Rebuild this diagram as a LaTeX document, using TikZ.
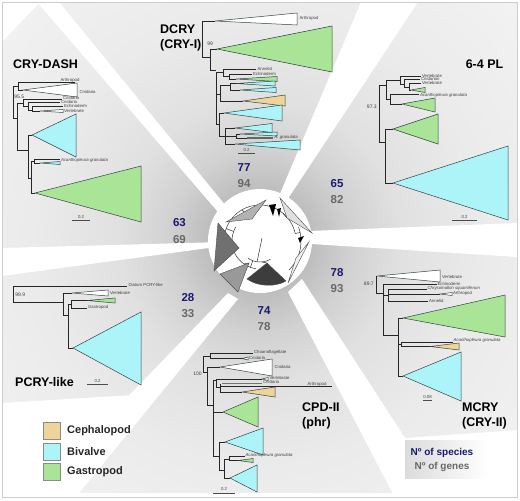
\documentclass[tikz,border=0pt]{standalone}
\usepackage{fontspec}
\setmainfont{Liberation Sans}
\usepackage{xcolor}
\usetikzlibrary{calc}
\definecolor{cephTan}{RGB}{238,212,152}
\definecolor{bivCyan}{RGB}{172,244,248}
\definecolor{gasGreen}{RGB}{170,228,150}
\definecolor{numBlue}{RGB}{26,26,112}
\definecolor{numGray}{RGB}{104,104,104}
\definecolor{cladeEdge}{RGB}{50,66,68}
\definecolor{frameGray}{RGB}{204,204,204}
% 25bp is the radius of the shaded circle
\pgfdeclareradialshading{panelfade}{\pgfpointorigin}{color(0bp)=(black!32); color(3.6bp)=(black!26); color(6.5bp)=(black!18); color(10bp)=(black!12); color(16bp)=(black!8); color(25bp)=(black!5); color(50bp)=(black!5)}

\begin{document}
\begin{tikzpicture}[x=1pt,y=-1pt,
    br/.style={line width=0.45pt, black!85},
    clade/.style={draw=cladeEdge, line width=0.5pt},
    ctri/.style={draw=black!70, line width=0.4pt},
    itree/.style={line width=0.5pt, black!80},
    lab/.style={font=\fontsize{4.3}{5}\selectfont, text=black!75, inner sep=0.4pt},
    ilab/.style={font=\fontsize{4.3}{5}\selectfont\itshape, text=black!75, inner sep=0.4pt},
    boot/.style={font=\fontsize{5}{6}\selectfont, text=black!75, inner sep=0.6pt},
    ttl/.style={font=\fontsize{12.5}{15}\selectfont\bfseries, align=left, inner sep=0pt},
    nsp/.style={font=\fontsize{11.5}{12}\selectfont\bfseries, text=numBlue, inner sep=0pt},
    ngn/.style={font=\fontsize{11.5}{12}\selectfont\bfseries, text=numGray, inner sep=0pt},
    leg/.style={font=\fontsize{11}{12}\selectfont\bfseries, text=black!85, inner sep=0pt, anchor=west},
    sbar/.style={line width=0.6pt, black!70},
    ray/.style={fill=white, draw=none}]

    \useasboundingbox (0,0) rectangle (520,501);

    % grey panels round the central tree
    \begin{scope}
        \clip (2.5,2.5) rectangle (517.5,497.5);
        \shade[shading=panelfade] (260,241) circle (350);
        \fill[ray] (218,212) -- (37,2) -- (59,2) -- (226,206) -- cycle;
        \fill[ray] (2,2) -- (40,2) -- (2,42) -- cycle;
        \fill[ray] (260,241) -- (361,2) -- (418,2) -- cycle;
        \fill[ray] (295,231.5) -- (518,223) -- (518,257) -- (295,243) -- cycle;
        \fill[ray] (288,292) -- (302,279) -- (405,438) -- (518,430) -- (518,498) -- (395,498) -- cycle;
        \fill[ray] (228,293) -- (30,498) -- (75,498) -- (238,299) -- cycle;
        \fill[ray] (2,403) -- (150,394) -- (75,498) -- (2,498) -- cycle;
        \fill[ray] (260,241) -- (2,248) -- (2,276) -- cycle;
        \fill[ray] (2,492.5) rectangle (518,498);
    \end{scope}
    \draw[frameGray, line width=0.7pt] (2.5,2.5) rectangle (517.5,497.5);

    % central circular tree
    \fill[white] (260,241) circle (52);
    \draw[itree] plot[domain=12:165, samples=40] ({260+36*cos(\x)},{241-36*sin(\x)});
    \draw[itree] plot[domain=150:262, samples=30] ({260+28*cos(\x)},{241-28*sin(\x)});
    \draw[itree] plot[domain=235:300, samples=20] ({260+21*cos(\x)},{241-21*sin(\x)});
    \draw[itree] plot[domain=-45:20, samples=20] ({260+41*cos(\x)},{241-41*sin(\x)});
    \draw[itree] ({260+36*cos(120)},{241-36*sin(120)}) -- (252,219);
    \draw[itree] ({260+28*cos(185)},{241-28*sin(185)}) -- (239,248);
    \draw[itree] ({260+28*cos(235)},{241-28*sin(235)}) -- (249,263);
    \draw[itree] ({260+21*cos(275)},{241-21*sin(275)}) -- (267,263);
    \draw[itree] ({260+41*cos(-25)},{241-41*sin(-25)}) -- (296,258);
    \draw[itree] ({260+36*cos(50)},{241-36*sin(50)}) -- (287,218);
    \draw[itree] ({260+36*cos(12)},{241-36*sin(12)}) -- ({260+41*cos(12)},{241-41*sin(12)});
    \draw[itree] ({260+36*cos(160)},{241-36*sin(160)}) -- ({260+28*cos(160)},{241-28*sin(160)});
    \draw[itree] ({260+28*cos(250)},{241-28*sin(250)}) -- ({260+21*cos(250)},{241-21*sin(250)});
    \draw[itree] ({260+21*cos(262)},{241-21*sin(262)}) -- (262,238);
    \filldraw[ctri, fill=black!30] (226,222) -- (266,200) -- (252,219) -- cycle;
    \filldraw[ctri, fill=black!56] (218,223) -- (214,271) -- (239,248) -- cycle;
    \filldraw[ctri, fill=black!40] (220,274) -- (238,292) -- (249,263) -- cycle;
    \filldraw[ctri, fill=black!76] (267,263) -- (247,279) .. controls (258,287) and (276,287) .. (286,281) -- cycle;
    \filldraw[ctri, fill=black!6] (309,242) -- (288,283) -- (296,258) -- cycle;
    \filldraw[ctri, fill=black!12] (280,198) -- (312,233) -- (287,218) -- cycle;
    \fill[black] (269,205) -- (276,204) -- (273,216) -- cycle;
    \fill[black] (277,209) -- (281,208) -- (279,217) -- cycle;
    \fill[black] (298,238) -- (304,236) -- (300,243) -- cycle;

    % DCRY (CRY-I)
    \node[ttl, anchor=west] (tDC) at (160,37.5) {DCRY\\(CRY-I)};
    \draw[br] (215,21) -- (202,21) -- (202,57) -- (210,57);
    \draw[br] (217,49) -- (210,49) -- (210,70) -- (216,70);
    \draw[br] (216,72) -- (216,124);
    \draw[br] (216,72) -- (223,72) (223,69.5) -- (223,76) (223,69.5) -- (256,69.5)
        (223,76) -- (229,76) (229,74) -- (229,79) (229,74) -- (252,74) (229,79) -- (236,79);
    \draw[br] (216,94) -- (220,94) (220,85) -- (220,101) (220,85) -- (230,85)
        (230,83.5) -- (230,90) (230,83.5) -- (236,83.5) (230,90) -- (240,90) (220,101) -- (243,101);
    \draw[br] (216,124) -- (219,124) (219,113) -- (219,136) (219,113) -- (224,113)
        (219,136) -- (225,136) (225,128) -- (225,144) (225,128) -- (235,128)
        (225,136) -- (236,136) (236,134) -- (236,138) (236,134) -- (240,134)
        (236,138) -- (273,138) (225,144) -- (235,144);
    \draw[line width=1.2pt, black!60] (247,138) -- (273,138);
    \filldraw[clade, fill=white] (215,21) -- (297,13) -- (297,25) -- cycle;
    \filldraw[clade, fill=gasGreen] (217,49) -- (332,26) -- (332,72) -- cycle;
    \filldraw[clade, fill=gasGreen] (236,79) -- (277,76.5) -- (277,81.5) -- cycle;
    \filldraw[clade, fill=bivCyan] (236,83.5) -- (275,81) -- (275,86) -- cycle;
    \filldraw[clade, fill=bivCyan] (240,90) -- (276,87.5) -- (276,92.5) -- cycle;
    \filldraw[clade, fill=cephTan] (243,101) -- (285,95) -- (285,106) -- cycle;
    \filldraw[clade, fill=bivCyan] (224,113) -- (282,105) -- (282,121) -- cycle;
    \filldraw[clade, fill=bivCyan] (235,128) -- (272,123.5) -- (272,132.5) -- cycle;
    \filldraw[clade, fill=bivCyan] (240,134) -- (277,132) -- (277,136) -- cycle;
    \filldraw[clade, fill=bivCyan] (235,144) -- (300,140) -- (300,150) -- cycle;
    \node[lab, anchor=west] (dcArth) at (299,18.5) {Arthropod};
    \node[boot, anchor=west] (dcBoot) at (206.5,44) {99};
    \node[lab, anchor=west] (dcAnn) at (257,68.5) {Annelid};
    \node[lab, anchor=west] (dcEch) at (252.5,74) {Echinoderm};
    \node[ilab, anchor=west] (dcAgr) at (274,137) {A. granulata};
    \draw[sbar] (238,153.5) -- (255,153.5);
    \node[lab, anchor=south] (dcScl) at (246.5,152) {0.2};
    \node[nsp] (dcSp) at (244,168) {77};
    \node[ngn] (dcGn) at (244,184) {94};

    % CRY-DASH
    \node[ttl, anchor=west] (tCD) at (13,64) {CRY-DASH};
    \draw[br] (13,86) -- (13,118) (13,86) -- (18,86) (18,82) -- (18,90) (18,82) -- (75,82) (18,90) -- (23,90);
    \draw[br] (13,118) -- (17,118) (17,103) -- (17,150) (17,103) -- (23,103)
        (23,99) -- (23,106) (23,99) -- (62,99) (23,106) -- (28,106) (28,102) -- (28,110)
        (28,102) -- (60,102) (28,110) -- (32,110) (32,106) -- (32,111) (32,106) -- (63,106)
        (32,111) -- (40,111);
    \draw[br] (17,150) -- (28,150) (28,135) -- (28,178) (28,135) -- (32,135) (28,178) -- (31,178)
        (31,161) -- (31,193) (31,161) -- (34,161) (34,159) -- (34,163) (34,159) -- (60,159)
        (34,163) -- (40,163) (31,193) -- (35,193);
    \filldraw[clade, fill=white] (23,90) -- (77,83) -- (77,97) -- cycle;
    \filldraw[clade, fill=white] (40,111) -- (63,109.5) -- (63,112.5) -- cycle;
    \filldraw[clade, fill=bivCyan] (32,135) -- (76,114) -- (76,157) -- cycle;
    \filldraw[clade, fill=bivCyan] (40,163) -- (60,161.5) -- (60,164.5) -- cycle;
    \filldraw[clade, fill=gasGreen] (35,193) -- (141,166) -- (141,222) -- cycle;
    \node[lab, anchor=west] (cdArth) at (60,80.3) {Arthropod};
    \node[lab, anchor=west] (cdCni) at (79,92) {Cnidaria};
    \node[boot, anchor=west] (cdBoot) at (13.5,96.5) {95.5};
    \node[lab, anchor=west] (cdCniA) at (62.5,98.3) {Cnidaria};
    \node[lab, anchor=west] (cdCniB) at (60.5,101.8) {Cnidaria};
    \node[lab, anchor=west] (cdEch) at (63.5,105.6) {Echinoderm};
    \node[lab, anchor=west] (cdVer) at (63.5,110.6) {Vertebrate};
    \node[ilab, anchor=west] (cdAgr) at (60.5,160.5) {Acanthopleura granulata};
    \draw[sbar] (72,220.5) -- (90,220.5);
    \node[lab, anchor=south] (cdScl) at (81,219) {0.2};
    \node[nsp] (cdSp) at (179.5,223) {63};
    \node[ngn] (cdGn) at (179.5,239.5) {69};

    % 6-4 PL
    \node[ttl, anchor=east] (tPL) at (503.5,64) {6-4 PL};
    \draw[br] (379,85) -- (379,142) (379,85) -- (386,85) (386,80) -- (386,99)
        (386,80) -- (400,80) (400,76) -- (400,84) (400,76) -- (421,76) (400,84) -- (404,84)
        (404,79.5) -- (404,87.5) (404,79.5) -- (420,79.5) (404,87.5) -- (409,87.5)
        (409,83) -- (409,90) (409,83) -- (421,83) (409,90) -- (411,90);
    \draw[br] (386,99) -- (390,99) (390,94) -- (390,104) (390,94) -- (419,94) (390,104) -- (402,104);
    \draw[br] (379,142) -- (385,142) (385,129) -- (385,183) (385,129) -- (393,129) (385,183) -- (393,183);
    \filldraw[clade, fill=gasGreen] (411,90) -- (425,87.5) -- (425,92.5) -- cycle;
    \filldraw[clade, fill=gasGreen] (402,104) -- (435,98) -- (435,112) -- cycle;
    \filldraw[clade, fill=gasGreen] (393,129) -- (438,114) -- (438,144) -- cycle;
    \filldraw[clade, fill=bivCyan] (393,183) -- (508,146) -- (508,220) -- cycle;
    \node[boot, anchor=east] (plBoot) at (377.5,107) {97.3};
    \node[lab, anchor=west] (plVerA) at (421.5,75.8) {Vertebrate};
    \node[lab, anchor=west] (plCni) at (420.5,79.3) {Cnidarian};
    \node[lab, anchor=west] (plVerB) at (421.5,82.8) {Vertebrate};
    \node[ilab, anchor=west] (plAgr) at (419.5,95.3) {Acanthopleura granulata};
    \draw[sbar] (452,220.5) -- (477,220.5);
    \node[lab, anchor=south] (plScl) at (464.5,219) {0.2};
    \node[nsp] (plSp) at (337,184) {65};
    \node[ngn] (plGn) at (337,200) {82};

    % PCRY-like
    \node[ttl, anchor=west] (tPC) at (15,382) {PCRY-like};
    \draw[br] (127,286) -- (13,286) -- (13,302) -- (63,302);
    \draw[br] (63,293) -- (63,315) (63,293) -- (72,293) (63,315) -- (68,315) (68,304) -- (68,348)
        (68,304) -- (71,304) (71,300.5) -- (71,308) (71,300.5) -- (87,300.5) (71,308) -- (87,308)
        (68,348) -- (73,348);
    \filldraw[clade, fill=white] (72,293) -- (108,290) -- (108,296) -- cycle;
    \filldraw[clade, fill=gasGreen] (87,300.5) -- (115,298) -- (115,303) -- cycle;
    \filldraw[clade, fill=bivCyan] (73,348) -- (141,312) -- (141,385) -- cycle;
    \node[lab, anchor=west] (pcDia) at (128,285) {Diatom PCRY-like};
    \node[boot, anchor=west] (pcBoot) at (14.5,295) {99.9};
    \node[lab, anchor=west] (pcVer) at (109.5,293) {Vertebrate};
    \node[lab, anchor=west] (pcGas) at (87.5,307) {Gastropod};
    \draw[sbar] (87,384.5) -- (108,384.5);
    \node[lab, anchor=south] (pcScl) at (97.5,383) {0.2};
    \node[nsp] (pcSp) at (188,297.5) {28};
    \node[ngn] (pcGn) at (188,314) {33};

    % CPD-II (phr)
    \node[ttl, anchor=west] (tCP) at (302,415.5) {CPD-II\\(phr)};
    \draw[br] (203,356) -- (203,372) (203,356) -- (210,356) (210,353) -- (210,358.5)
        (210,353) -- (253,353) (210,358.5) -- (242,358.5)
        (203,372) -- (207,372) (207,367) -- (207,405) (207,367) -- (220,367) (207,405) -- (213,405);
    \draw[br] (213,380) -- (213,456) (213,380) -- (216,380) (216,379) -- (216,387) (216,379) -- (262,379)
        (216,387) -- (220,387) (220,383.5) -- (220,392) (220,386.5) -- (332,386.5) (220,392) -- (242,392)
        (213,412) -- (223,412);
    \draw[line width=1.2pt, black!55] (222,383.5) -- (262,383.5);
    \draw[br] (213,456) -- (219,456) (219,442) -- (219,470) (219,442) -- (225,442) (219,470) -- (224,470)
        (224,459) -- (224,478) (224,459) -- (229,459) (229,456) -- (229,460.5) (229,456) -- (245,456)
        (229,460.5) -- (238,460.5) (224,478) -- (230,478);
    \filldraw[clade, fill=white] (242,358.5) -- (248,357) -- (248,360) -- cycle;
    \filldraw[clade, fill=white] (220,367) -- (272,359) -- (272,376) -- cycle;
    \filldraw[clade, fill=white] (262,379) -- (268,377.5) -- (268,380.5) -- cycle;
    \filldraw[clade, fill=cephTan] (242,392) -- (275,387) -- (275,397) -- cycle;
    \filldraw[clade, fill=gasGreen] (223,412) -- (258,397) -- (258,427) -- cycle;
    \filldraw[clade, fill=bivCyan] (225,442) -- (263,428) -- (263,455) -- cycle;
    \filldraw[clade, fill=gasGreen] (238,460.5) -- (253,458.5) -- (253,462.5) -- cycle;
    \filldraw[clade, fill=bivCyan] (230,478) -- (257,465) -- (257,492) -- cycle;
    \node[lab, anchor=west] (cpCho) at (253.5,352.5) {Choanoflagellate};
    \node[lab, anchor=west] (cpCniA) at (248.5,357.5) {Cnidaria};
    \node[boot, anchor=east] (cpBoot) at (202.5,374) {100};
    \node[lab, anchor=west] (cpCniB) at (274,367) {Cnidaria};
    \node[lab, anchor=west] (cpVer) at (269,378.3) {Vertebrate};
    \node[lab, anchor=west] (cpCniC) at (262.5,382.3) {Cnidaria};
    \node[lab, anchor=west] (cpArth) at (307,384) {Arthropod};
    \node[ilab, anchor=west] (cpAgr) at (245,455.3) {Acanthopleura granulata};
    \draw[sbar] (213,493) -- (235,493);
    \node[lab, anchor=south] (cpScl) at (224,491.5) {0.2};
    \node[nsp] (cpSp) at (264,310.5) {74};
    \node[ngn] (cpGn) at (264,326.5) {78};

    % MCRY (CRY-II)
    \node[ttl, anchor=west] (tMC) at (462,415.5) {MCRY\\(CRY-II)};
    \draw[br] (376,276) -- (376,293) (376,276) -- (377,276) (376,293) -- (383,293) (383,284) -- (383,335)
        (383,284) -- (437,284) (383,295) -- (388,295) (388,289) -- (388,301) (388,289) -- (427,289)
        (388,294) -- (440,294) (388,301) -- (428,301);
    \draw[br] (383,335) -- (398,335) (398,318) -- (398,376) (398,318) -- (403,318)
        (398,344) -- (401,344) (401,342) -- (401,346.5) (401,342) -- (453,342) (401,346.5) -- (430,346.5)
        (398,376) -- (403,376);
    \filldraw[clade, fill=white] (377,276) -- (440,270) -- (440,282) -- cycle;
    \filldraw[clade, fill=white] (440,294) -- (452,292.5) -- (452,295.5) -- cycle;
    \filldraw[clade, fill=gasGreen] (403,318) -- (505,295) -- (505,337) -- cycle;
    \filldraw[clade, fill=cephTan] (430,346.5) -- (459,343) -- (459,350) -- cycle;
    \filldraw[clade, fill=bivCyan] (403,376) -- (461,352) -- (461,401) -- cycle;
    \node[boot, anchor=east] (mcBoot) at (374.5,284) {89.7};
    \node[lab, anchor=west] (mcVer) at (441.5,276.5) {Vertebrate};
    \node[lab, anchor=west] (mcEch) at (437,283.5) {Echinoderm};
    \node[ilab, anchor=west] (mcChr) at (427,288.5) {Chrysomallon squamiferum};
    \node[lab, anchor=west] (mcArth) at (452.5,293.8) {Arthropod};
    \node[lab, anchor=west] (mcAnn) at (428.5,300.8) {Annelid};
    \node[ilab, anchor=west] (mcAgr) at (453,340.5) {Acanthopleura granulata};
    \draw[sbar] (423,400.5) -- (432,400.5);
    \node[lab, anchor=south] (mcScl) at (427.5,399) {0.08};
    \node[nsp] (mcSp) at (337,273) {78};
    \node[ngn] (mcGn) at (337,289) {93};

    % legend
    \filldraw[draw=black!45, line width=0.4pt, fill=cephTan] (43,422) rectangle (60,439);
    \filldraw[draw=black!45, line width=0.4pt, fill=bivCyan] (43,443) rectangle (60,460);
    \filldraw[draw=black!45, line width=0.4pt, fill=gasGreen] (43,463) rectangle (60,480);
    \node[leg] (lgCeph) at (67,431) {Cephalopod};
    \node[leg] (lgBiv) at (67,451.5) {Bivalve};
    \node[leg] (lgGas) at (67,471.5) {Gastropod};

    % key to the two numbers
    \shade[left color=black!14, right color=white] (405,440) rectangle (488,478);
    \node[font=\fontsize{10}{11}\selectfont\bfseries, text=numBlue, inner sep=0pt] (keySp) at (442,453) {Nº of species};
    \node[font=\fontsize{10}{11}\selectfont\bfseries, text=numGray, inner sep=0pt] (keyGn) at (442,467) {Nº of genes};
\end{tikzpicture}
\end{document}
